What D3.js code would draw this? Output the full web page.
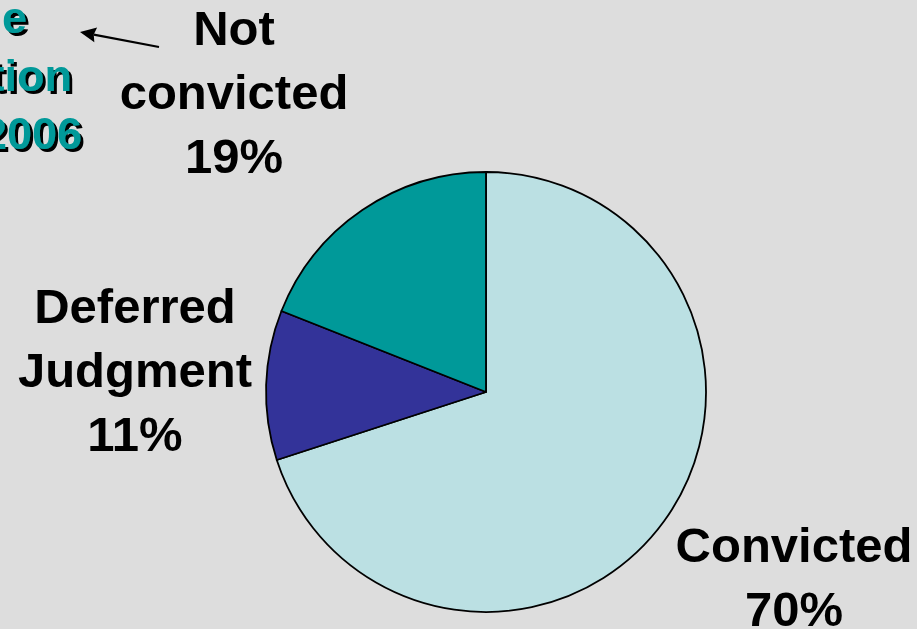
<!DOCTYPE html>
<html>
<head>
<meta charset="utf-8">
<script src="https://cdn.jsdelivr.net/npm/d3@7"></script>
<style>
  html, body { margin: 0; padding: 0; background: #DDDDDD; }
  svg { display: block; }
  text { font-family: "Liberation Sans", Arial, sans-serif; font-weight: bold; }
</style>
</head>
<body>
<script>
const categories = ["Convicted", "Deferred Judgment", "Not convicted"];
const values = [70, 11, 19];
const labels = ["70%", "11%", "19%"];
const colors = ["#BBE0E3", "#333399", "#009999"];
const titleLines = ["e", "tion", "2006"];

const W = 917, H = 629;
const svg = d3.select("body").append("svg").attr("width", W).attr("height", H);
const defs = svg.append("defs");
svg.append("rect").attr("width", W).attr("height", H).attr("fill", "#DDDDDD");

// shadow filter for the teal title
const f = defs.append("filter").attr("id", "shadow")
  .attr("x", "-20%").attr("y", "-20%").attr("width", "140%").attr("height", "140%");
f.append("feFlood").attr("flood-color", "#000").attr("result", "c");
f.append("feComposite").attr("in", "c").attr("in2", "SourceAlpha").attr("operator", "in").attr("result", "sh");
f.append("feOffset").attr("in", "sh").attr("dx", 2.5).attr("dy", 2.5).attr("result", "off");
const m = f.append("feMerge");
m.append("feMergeNode").attr("in", "off");
m.append("feMergeNode").attr("in", "SourceGraphic");

const cx = 486, cy = 392, r = 220;
const pie = d3.pie().sort(null).value(d => d.v);
const arcs = pie(categories.map((c, i) => ({c, v: values[i], color: colors[i]})));
const arc = d3.arc().innerRadius(0).outerRadius(r);

const g = svg.append("g").attr("transform", `translate(${cx},${cy})`);
g.selectAll("path").data(arcs).enter().append("path")
  .attr("d", arc)
  .attr("fill", d => d.data.color)
  .attr("stroke", "#000")
  .attr("stroke-width", 1.8)
  .attr("stroke-linejoin", "round");

// Labels
const labelDefs = [
  {lines: ["Convicted", labels[0]], x: 794, y: 562},
  {lines: ["Deferred", "Judgment", labels[1]], x: 135, y: 323},
  {lines: ["Not", "convicted", labels[2]], x: 234, y: 45}
];
const lineH = 64;
labelDefs.forEach(L => {
  const t = svg.append("text")
    .attr("text-anchor", "middle")
    .attr("font-size", 49)
    .attr("fill", "#000");
  L.lines.forEach((s, i) => {
    t.append("tspan").attr("x", L.x).attr("y", L.y + i * lineH).text(s);
  });
});

// Title fragment (teal with shadow), clipped at the left edge
const titleEnds = [27, 72, 82];
const titleBase = [33, 91, 149];
titleLines.forEach((s, i) => {
  svg.append("text").attr("text-anchor", "end")
    .attr("x", titleEnds[i]).attr("y", titleBase[i])
    .attr("font-size", 45).attr("fill", "#009999")
    .attr("filter", "url(#shadow)").text(s);
});

// Arrow
const x1 = 159, y1 = 47, tx = 80, ty = 32;
const L = Math.hypot(x1 - tx, y1 - ty);
const ux = (x1 - tx) / L, uy = (y1 - ty) / L;   // unit vector pointing back from tip
const hl = 16, hw = 7.5;
const bx = tx + ux * hl, by = ty + uy * hl;
svg.append("line")
  .attr("x1", x1).attr("y1", y1).attr("x2", tx + ux * (hl - 2)).attr("y2", ty + uy * (hl - 2))
  .attr("stroke", "#000").attr("stroke-width", 2.2);
svg.append("path")
  .attr("d", `M${tx},${ty} L${bx - uy * hw},${by + ux * hw} L${tx + ux * (hl - 2)},${ty + uy * (hl - 2)} L${bx + uy * hw},${by - ux * hw} Z`)
  .attr("fill", "#000");
</script>
</body>
</html>
